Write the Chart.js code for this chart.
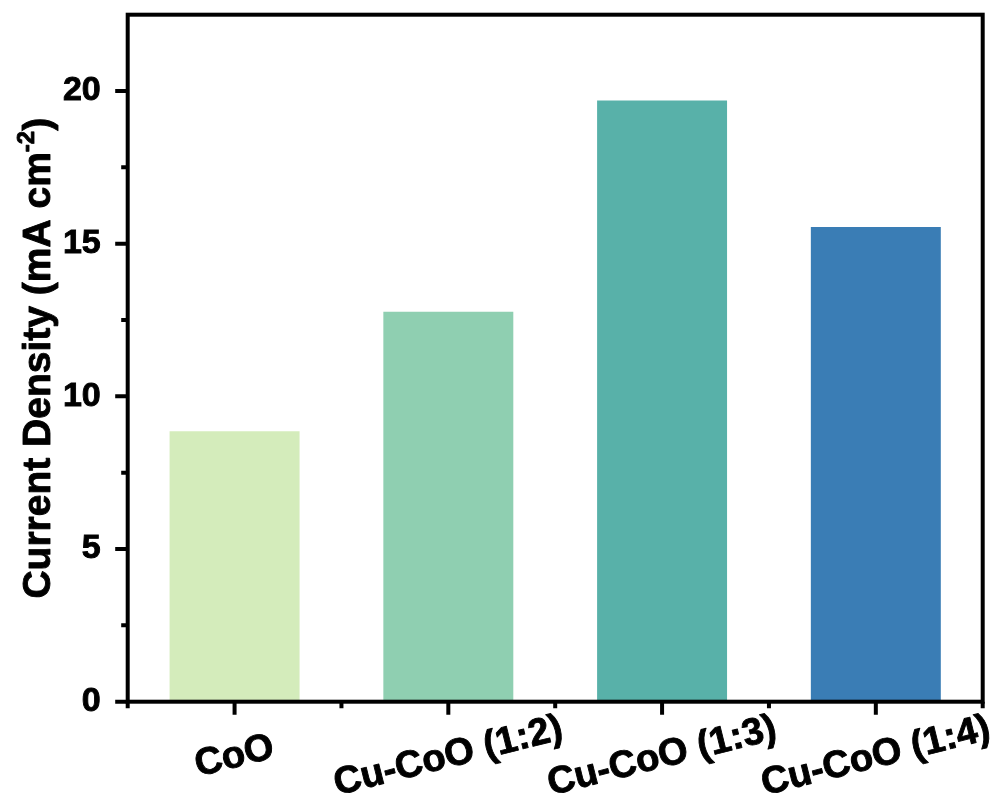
<!DOCTYPE html>
<html>
<head>
<meta charset="utf-8">
<script src="https://cdn.jsdelivr.net/npm/chart.js@4.4.1/dist/chart.umd.min.js"></script>
<style>
  html, body { margin: 0; padding: 0; background: #ffffff; }
  #wrap { width: 998px; height: 805px; }
</style>
</head>
<body>
<div id="wrap"><canvas id="chart" width="998" height="805"></canvas></div>
<script>
// Samples and their measured current density (mA cm^-2)
const categories = ['CoO', 'Cu-CoO (1:2)', 'Cu-CoO (1:3)', 'Cu-CoO (1:4)'];
const currentDensity = [8.86, 12.77, 19.69, 15.55];
const barColors = ['#d4ecbb', '#8fcfb1', '#58b1a9', '#3a7db5'];
const yMajorTicks = [0, 5, 10, 15, 20];
const yMinorTicks = [2.5, 7.5, 12.5, 17.5];
const yTitleParts = ['Current Density (mA cm', '-2', ')'];

const FONT = '"Liberation Sans", Arial, Helvetica, sans-serif';
const TEXT_STROKE = 0.9;
Chart.defaults.font.family = FONT;

// heavy text: fill plus a thin outline of the same colour
function heavyText(ctx, s, x, y) {
  ctx.fillText(s, x, y);
  ctx.strokeText(s, x, y);
}

// Frame, tick marks, rotated category labels and the axis title
const framePlugin = {
  id: 'frame',
  afterDraw(chart) {
    const { ctx, chartArea: a, scales: { x, y } } = chart;
    ctx.save();
    ctx.strokeStyle = '#000';
    ctx.lineWidth = 4;
    ctx.lineCap = 'butt';
    ctx.strokeRect(a.left, a.top, a.right - a.left, a.bottom - a.top);

    ctx.beginPath();
    yMajorTicks.forEach(v => {
      const py = y.getPixelForValue(v);
      ctx.moveTo(a.left, py); ctx.lineTo(a.left - 12.5, py);
    });
    yMinorTicks.forEach(v => {
      const py = y.getPixelForValue(v);
      ctx.moveTo(a.left, py); ctx.lineTo(a.left - 6.5, py);
    });
    categories.forEach((c, i) => {
      const px = x.getPixelForValue(i);
      ctx.moveTo(px, a.bottom); ctx.lineTo(px, a.bottom + 13);
    });
    for (let i = 0; i <= categories.length; i++) {
      const px = x.getPixelForValue(i - 0.5);
      ctx.moveTo(px, a.bottom); ctx.lineTo(px, a.bottom + 6.5);
    }
    ctx.stroke();

    // category labels, tilted and centred under their ticks
    ctx.fillStyle = '#000';
    ctx.lineWidth = TEXT_STROKE;
    ctx.lineJoin = 'round';
    ctx.font = 'bold 38px ' + FONT;
    ctx.textAlign = 'center';
    ctx.textBaseline = 'middle';
    categories.forEach((c, i) => {
      const px = x.getPixelForValue(i);
      ctx.save();
      ctx.translate(px, a.bottom + 55);
      ctx.rotate(-14 * Math.PI / 180);
      heavyText(ctx, c, 0, 0);
      ctx.restore();
    });

    // y axis title with superscript
    const mainFont = 'bold 39px ' + FONT;
    const supFont = 'bold 24px ' + FONT;
    ctx.font = mainFont;
    const w1 = ctx.measureText(yTitleParts[0]).width;
    const w3 = ctx.measureText(yTitleParts[2]).width;
    ctx.font = supFont;
    const w2 = ctx.measureText(yTitleParts[1]).width;
    const total = w1 + w2 + w3;
    ctx.translate(36, (a.top + a.bottom) / 2);
    ctx.rotate(-Math.PI / 2);
    ctx.textAlign = 'left';
    ctx.textBaseline = 'alphabetic';
    let sx = -total / 2;
    const base = 14;
    ctx.font = mainFont;
    heavyText(ctx, yTitleParts[0], sx, base); sx += w1;
    ctx.font = supFont;
    heavyText(ctx, yTitleParts[1], sx, base - 16); sx += w2;
    ctx.font = mainFont;
    heavyText(ctx, yTitleParts[2], sx, base);
    ctx.restore();
  }
};

new Chart(document.getElementById('chart'), {
  type: 'bar',
  data: {
    labels: categories,
    datasets: [{
      data: currentDensity,
      backgroundColor: barColors,
      borderWidth: 0,
      barPercentage: 0.608,
      categoryPercentage: 1
    }]
  },
  options: {
    responsive: false,
    animation: false,
    devicePixelRatio: 1,
    layout: { padding: { top: 14.7, right: 15.3, left: 0, bottom: 0 } },
    plugins: { legend: { display: false }, tooltip: { enabled: false }, title: { display: false } },
    scales: {
      x: {
        offset: true,
        grid: { display: false, drawTicks: false },
        border: { display: false },
        ticks: { display: false },
        afterFit(s) { s.height = 103.3; s.paddingLeft = 0; s.paddingRight = 0; }
      },
      y: {
        min: 0,
        max: 22.5,
        grid: { display: false, drawTicks: false },
        border: { display: false },
        afterBuildTicks(s) { s.ticks = yMajorTicks.map(v => ({ value: v })); },
        ticks: {
          color: '#000',
          padding: 27,
          textStrokeColor: '#000',
          textStrokeWidth: TEXT_STROKE,
          font: { size: 34, weight: 'bold', family: FONT }
        },
        afterFit(s) { s.width = 127.7; s.paddingTop = 0; s.paddingBottom = 0; }
      }
    }
  },
  plugins: [framePlugin]
});
</script>
</body>
</html>
